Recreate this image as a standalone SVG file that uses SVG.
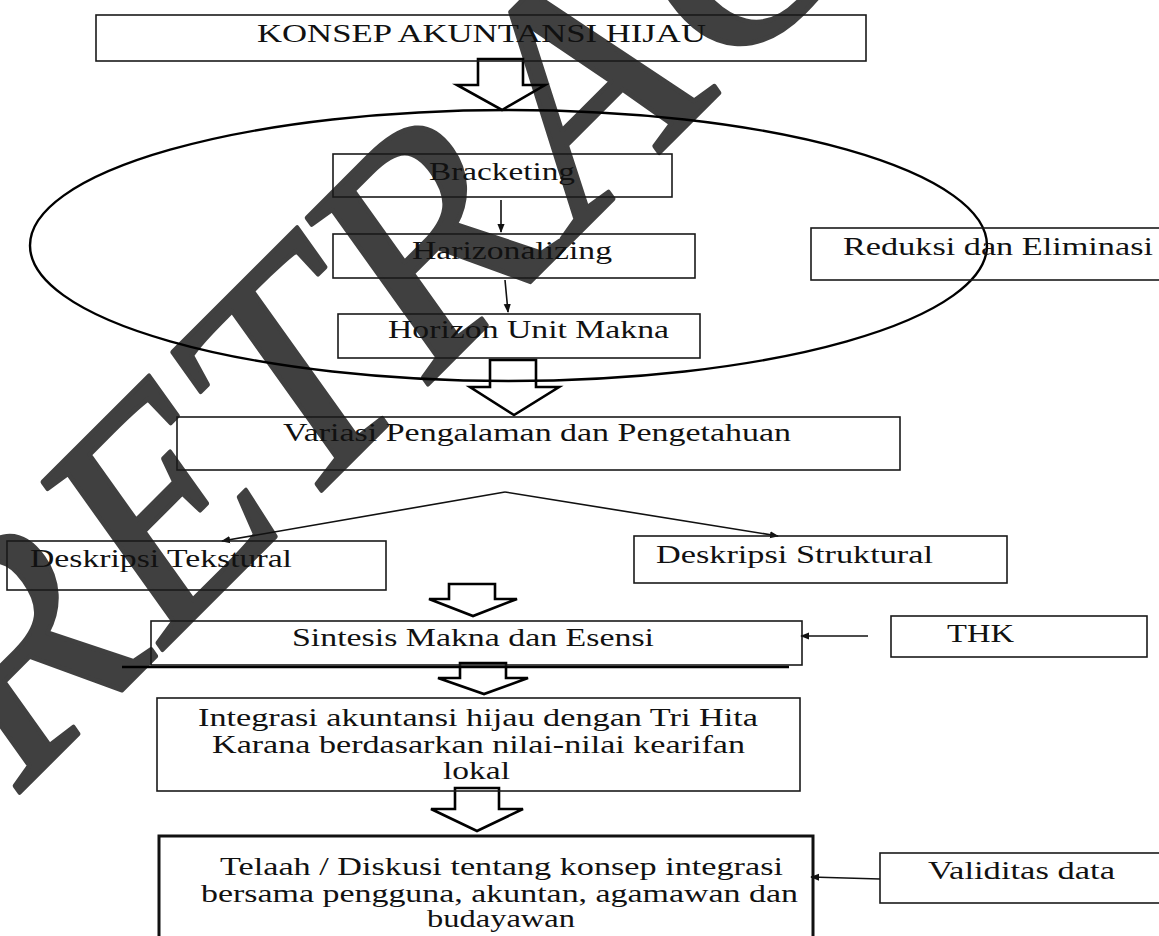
<svg xmlns="http://www.w3.org/2000/svg" width="1159" height="936" viewBox="0 0 1159 936">
<defs>
<style>
.b{fill:none;stroke:#1a1a1a;stroke-width:1.6}
.bk{fill:none;stroke:#111;stroke-width:3}
.t{font-family:"Liberation Serif","Times New Roman",serif;font-size:25px;fill:#111}
.ha{fill:none;stroke:#000;stroke-width:2.6;stroke-linejoin:miter}
.ln{fill:none;stroke:#111;stroke-width:1.6}
.wm{font-family:"Liberation Serif","Times New Roman",serif;font-size:335px;fill:#404040;stroke:#404040;stroke-width:5;stroke-linejoin:round}
</style>
<marker id="ah" viewBox="0 0 10 10" refX="9" refY="5" markerWidth="9" markerHeight="9" markerUnits="userSpaceOnUse" orient="auto">
<path d="M0,1 L10,5 L0,9 Z" fill="#111"/>
</marker>
</defs>
<rect width="1159" height="936" fill="#fff"/>
<g id="watermark">
<text class="wm" transform="translate(12,800) scale(0.845,1) rotate(-40.2)">RETRACTED</text>
</g>
<g id="connectors">
<ellipse cx="508.5" cy="245.5" rx="478.5" ry="135.5" fill="none" stroke="#000" stroke-width="2.4"/>
<polygon class="ha" points="478,59 523,59 523,85 545,85 502,110 457,85 478,85"/>
<polygon class="ha" points="490,360 536,360 536,387 559,387 514,415 470,387 490,387"/>
<polygon class="ha" points="449,584 495,584 495,599 517,599 473,616 429,599 449,599"/>
<polygon class="ha" points="460,663 506,663 506,678 528,678 484,694 438,678 460,678"/>
<polygon class="ha" points="455,788 499,788 499,809 523,809 477,831 431,809 455,809"/>
<line class="ln" x1="501" y1="200" x2="501" y2="232" marker-end="url(#ah)"/>
<line class="ln" x1="505" y1="280" x2="508" y2="312" marker-end="url(#ah)"/>
<line class="ln" x1="505" y1="492" x2="222" y2="541" marker-end="url(#ah)"/>
<line class="ln" x1="505" y1="492" x2="778" y2="536" marker-end="url(#ah)"/>
<line class="ln" x1="868" y1="636" x2="801" y2="636" marker-end="url(#ah)"/>
<line class="ln" x1="880" y1="879" x2="811" y2="877" marker-end="url(#ah)"/>
<line x1="122" y1="667" x2="789" y2="667" stroke="#000" stroke-width="2.4"/>
</g>
<g id="n-konsep"><rect class="b" x="96" y="15" width="770" height="46"/><text class="t" x="257" y="42" textLength="449" lengthAdjust="spacingAndGlyphs">KONSEP AKUNTANSI  HIJAU</text></g>
<g id="n-bracketing"><rect class="b" x="333" y="154" width="339" height="43"/><text class="t" x="429" y="180" textLength="146" lengthAdjust="spacingAndGlyphs">Bracketing</text></g>
<g id="n-harizonalizing"><rect class="b" x="333" y="234" width="362" height="44"/><text class="t" x="412" y="259" textLength="200" lengthAdjust="spacingAndGlyphs">Harizonalizing</text></g>
<g id="n-horizon"><rect class="b" x="338" y="314" width="362" height="44"/><text class="t" x="388" y="338" textLength="281" lengthAdjust="spacingAndGlyphs">Horizon Unit Makna</text></g>
<g id="n-reduksi"><rect class="b" x="811" y="228" width="351" height="52"/><text class="t" x="843" y="255" textLength="310" lengthAdjust="spacingAndGlyphs">Reduksi  dan Eliminasi</text></g>
<g id="n-variasi"><rect class="b" x="177" y="417" width="723" height="53"/><text class="t" x="283" y="441" textLength="508" lengthAdjust="spacingAndGlyphs">Variasi Pengalaman dan Pengetahuan</text></g>
<g id="n-tekstural"><rect class="b" x="7" y="541" width="379" height="49"/><text class="t" x="30" y="567" textLength="262" lengthAdjust="spacingAndGlyphs">Deskripsi  Tekstural</text></g>
<g id="n-struktural"><rect class="b" x="634" y="536" width="373" height="47"/><text class="t" x="656" y="563" textLength="277" lengthAdjust="spacingAndGlyphs">Deskripsi  Struktural</text></g>
<g id="n-sintesis"><rect class="b" x="151" y="621" width="651" height="44"/><text class="t" x="292" y="646" textLength="362" lengthAdjust="spacingAndGlyphs">Sintesis Makna dan Esensi</text></g>
<g id="n-thk"><rect class="b" x="891" y="616" width="256" height="41"/><text class="t" x="947" y="642" textLength="67" lengthAdjust="spacingAndGlyphs">THK</text></g>
<g id="n-integrasi"><rect class="b" x="157" y="698" width="643" height="93"/>
<text class="t" x="198" y="726" textLength="560" lengthAdjust="spacingAndGlyphs">Integrasi akuntansi hijau dengan Tri Hita</text>
<text class="t" x="212" y="753" textLength="533" lengthAdjust="spacingAndGlyphs">Karana berdasarkan nilai-nilai kearifan</text>
<text class="t" x="443" y="779" textLength="67" lengthAdjust="spacingAndGlyphs">lokal</text></g>
<g id="n-telaah"><rect class="bk" x="159" y="836" width="654" height="104"/>
<text class="t" x="220" y="875" textLength="563" lengthAdjust="spacingAndGlyphs">Telaah / Diskusi tentang konsep  integrasi</text>
<text class="t" x="201" y="902" textLength="597" lengthAdjust="spacingAndGlyphs">bersama pengguna, akuntan, agamawan  dan</text>
<text class="t" x="427" y="927" textLength="148" lengthAdjust="spacingAndGlyphs">budayawan</text></g>
<g id="n-validitas"><rect class="b" x="880" y="853" width="282" height="50"/><text class="t" x="928" y="879" textLength="187" lengthAdjust="spacingAndGlyphs">Validitas data</text></g>
</svg>
